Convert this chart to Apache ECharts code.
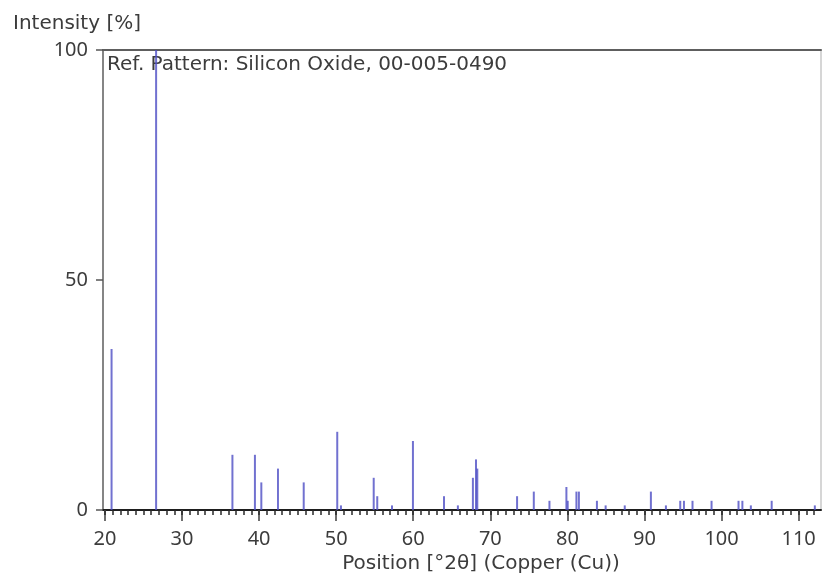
<!DOCTYPE html>
<html>
<head>
<meta charset="utf-8">
<script src="https://cdn.jsdelivr.net/npm/echarts@6/dist/echarts.min.js"></script>
<style>
  html, body { margin: 0; padding: 0; background: #fff; }
  #chart { width: 822px; height: 579px; }
</style>
</head>
<body>
<div id="chart"></div>
<script>
// Reference pattern peaks: position (°2θ) and relative intensity (%)
const positions = [20.86, 26.64, 36.54, 39.46, 40.29, 42.45, 45.79, 50.14, 50.62, 54.87,
  55.33, 57.24, 59.96, 63.99, 65.79, 67.74, 68.14, 68.31, 73.47, 75.64,
  77.67, 79.87, 80.04, 81.17, 81.49, 83.83, 84.96, 87.44, 90.83, 92.78,
  94.64, 95.12, 96.23, 98.70, 102.2, 102.7, 103.8, 106.5, 112.1];
const intensities = [35, 100, 12, 12, 6, 9, 6, 17, 1, 7,
  3, 1, 15, 3, 1, 7, 11, 9, 3, 4,
  2, 5, 2, 4, 4, 2, 1, 1, 4, 1,
  2, 2, 2, 2, 2, 2, 1, 2, 1];
const xTickLabels = [20, 30, 40, 50, 60, 70, 80, 90, 100, 110];
const yTickLabels = [0, 50, 100];

const X_MIN = 19.75, X_MAX = 112.9;
const textFont = 'DejaVu Sans';
const tickFont = 'Noto Sans';
const textColor = '#3c3c3c';

// short ticks at every whole degree
const xMinorTicks = [];
for (let v = 20; v <= 112; v++) xMinorTicks.push(v);

const peaks = positions.map((p, i) => [p, intensities[i]]);
const gridRect = { left: 103, right: 1, top: 50, bottom: 69 };

const chart = echarts.init(document.getElementById('chart'), null, { renderer: 'canvas' });

chart.setOption({
  animation: false,
  backgroundColor: '#ffffff',
  grid: [
    Object.assign({ containLabel: false }, gridRect),
    Object.assign({ containLabel: false }, gridRect)
  ],
  xAxis: [
    {
      // main axis: labels and long ticks every 10°
      type: 'value', gridIndex: 0, position: 'bottom',
      min: X_MIN, max: X_MAX,
      axisLine: { show: true, onZero: false, lineStyle: { color: '#1e1e1e', width: 2 } },
      axisTick: { show: true, length: 11, customValues: xTickLabels,
        lineStyle: { color: '#6e6e6e', width: 2 } },
      axisLabel: { show: true, customValues: xTickLabels, margin: 19,
        fontFamily: tickFont, fontSize: 20, color: textColor },
      splitLine: { show: false }
    },
    {
      // short ticks every 1°
      type: 'value', gridIndex: 1, position: 'bottom',
      min: X_MIN, max: X_MAX,
      axisLine: { show: false },
      axisTick: { show: true, length: 5, customValues: xMinorTicks,
        lineStyle: { color: '#2a2a2a', width: 1.5 } },
      axisLabel: { show: false },
      splitLine: { show: false }
    },
    {
      // top frame line
      type: 'value', gridIndex: 1, position: 'top',
      min: X_MIN, max: X_MAX,
      axisLine: { show: true, onZero: false, lineStyle: { color: '#5e5e5e', width: 2 } },
      axisTick: { show: false }, axisLabel: { show: false }, splitLine: { show: false }
    }
  ],
  yAxis: [
    {
      type: 'value', gridIndex: 0, position: 'left',
      min: 0, max: 100, interval: 50,
      axisLine: { show: true, onZero: false, lineStyle: { color: '#858585', width: 2 } },
      axisTick: { show: true, length: 7, customValues: yTickLabels,
        lineStyle: { color: '#555', width: 1.5 } },
      axisLabel: { show: true, customValues: yTickLabels, margin: 15,
        fontFamily: tickFont, fontSize: 20, color: textColor },
      splitLine: { show: false }
    },
    {
      // right frame line
      type: 'value', gridIndex: 1, position: 'right',
      min: 0, max: 100,
      axisLine: { show: true, onZero: false, lineStyle: { color: '#c8c8c8', width: 1.5 } },
      axisTick: { show: false }, axisLabel: { show: false }, splitLine: { show: false }
    }
  ],
  series: [
    {
      type: 'bar',
      xAxisIndex: 0, yAxisIndex: 0,
      data: peaks,
      barWidth: 2,
      itemStyle: { color: 'rgba(78, 78, 196, 0.8)' },
      z: 1
    }
  ],
  graphic: [
    {
      type: 'text', left: 13, top: 14,
      style: { text: 'Intensity [%]', font: '20px "' + textFont + '"', fill: textColor }
    },
    {
      type: 'text', left: 107, top: 55,
      style: { text: 'Ref. Pattern: Silicon Oxide, 00-005-0490', font: '20px "' + textFont + '"', fill: textColor }
    },
    {
      type: 'text', x: 481, y: 564,
      style: { text: 'Position [°2θ] (Copper (Cu))', font: '20px "' + textFont + '"', fill: textColor,
        align: 'center', verticalAlign: 'middle' }
    }
  ]
});
</script>
</body>
</html>
